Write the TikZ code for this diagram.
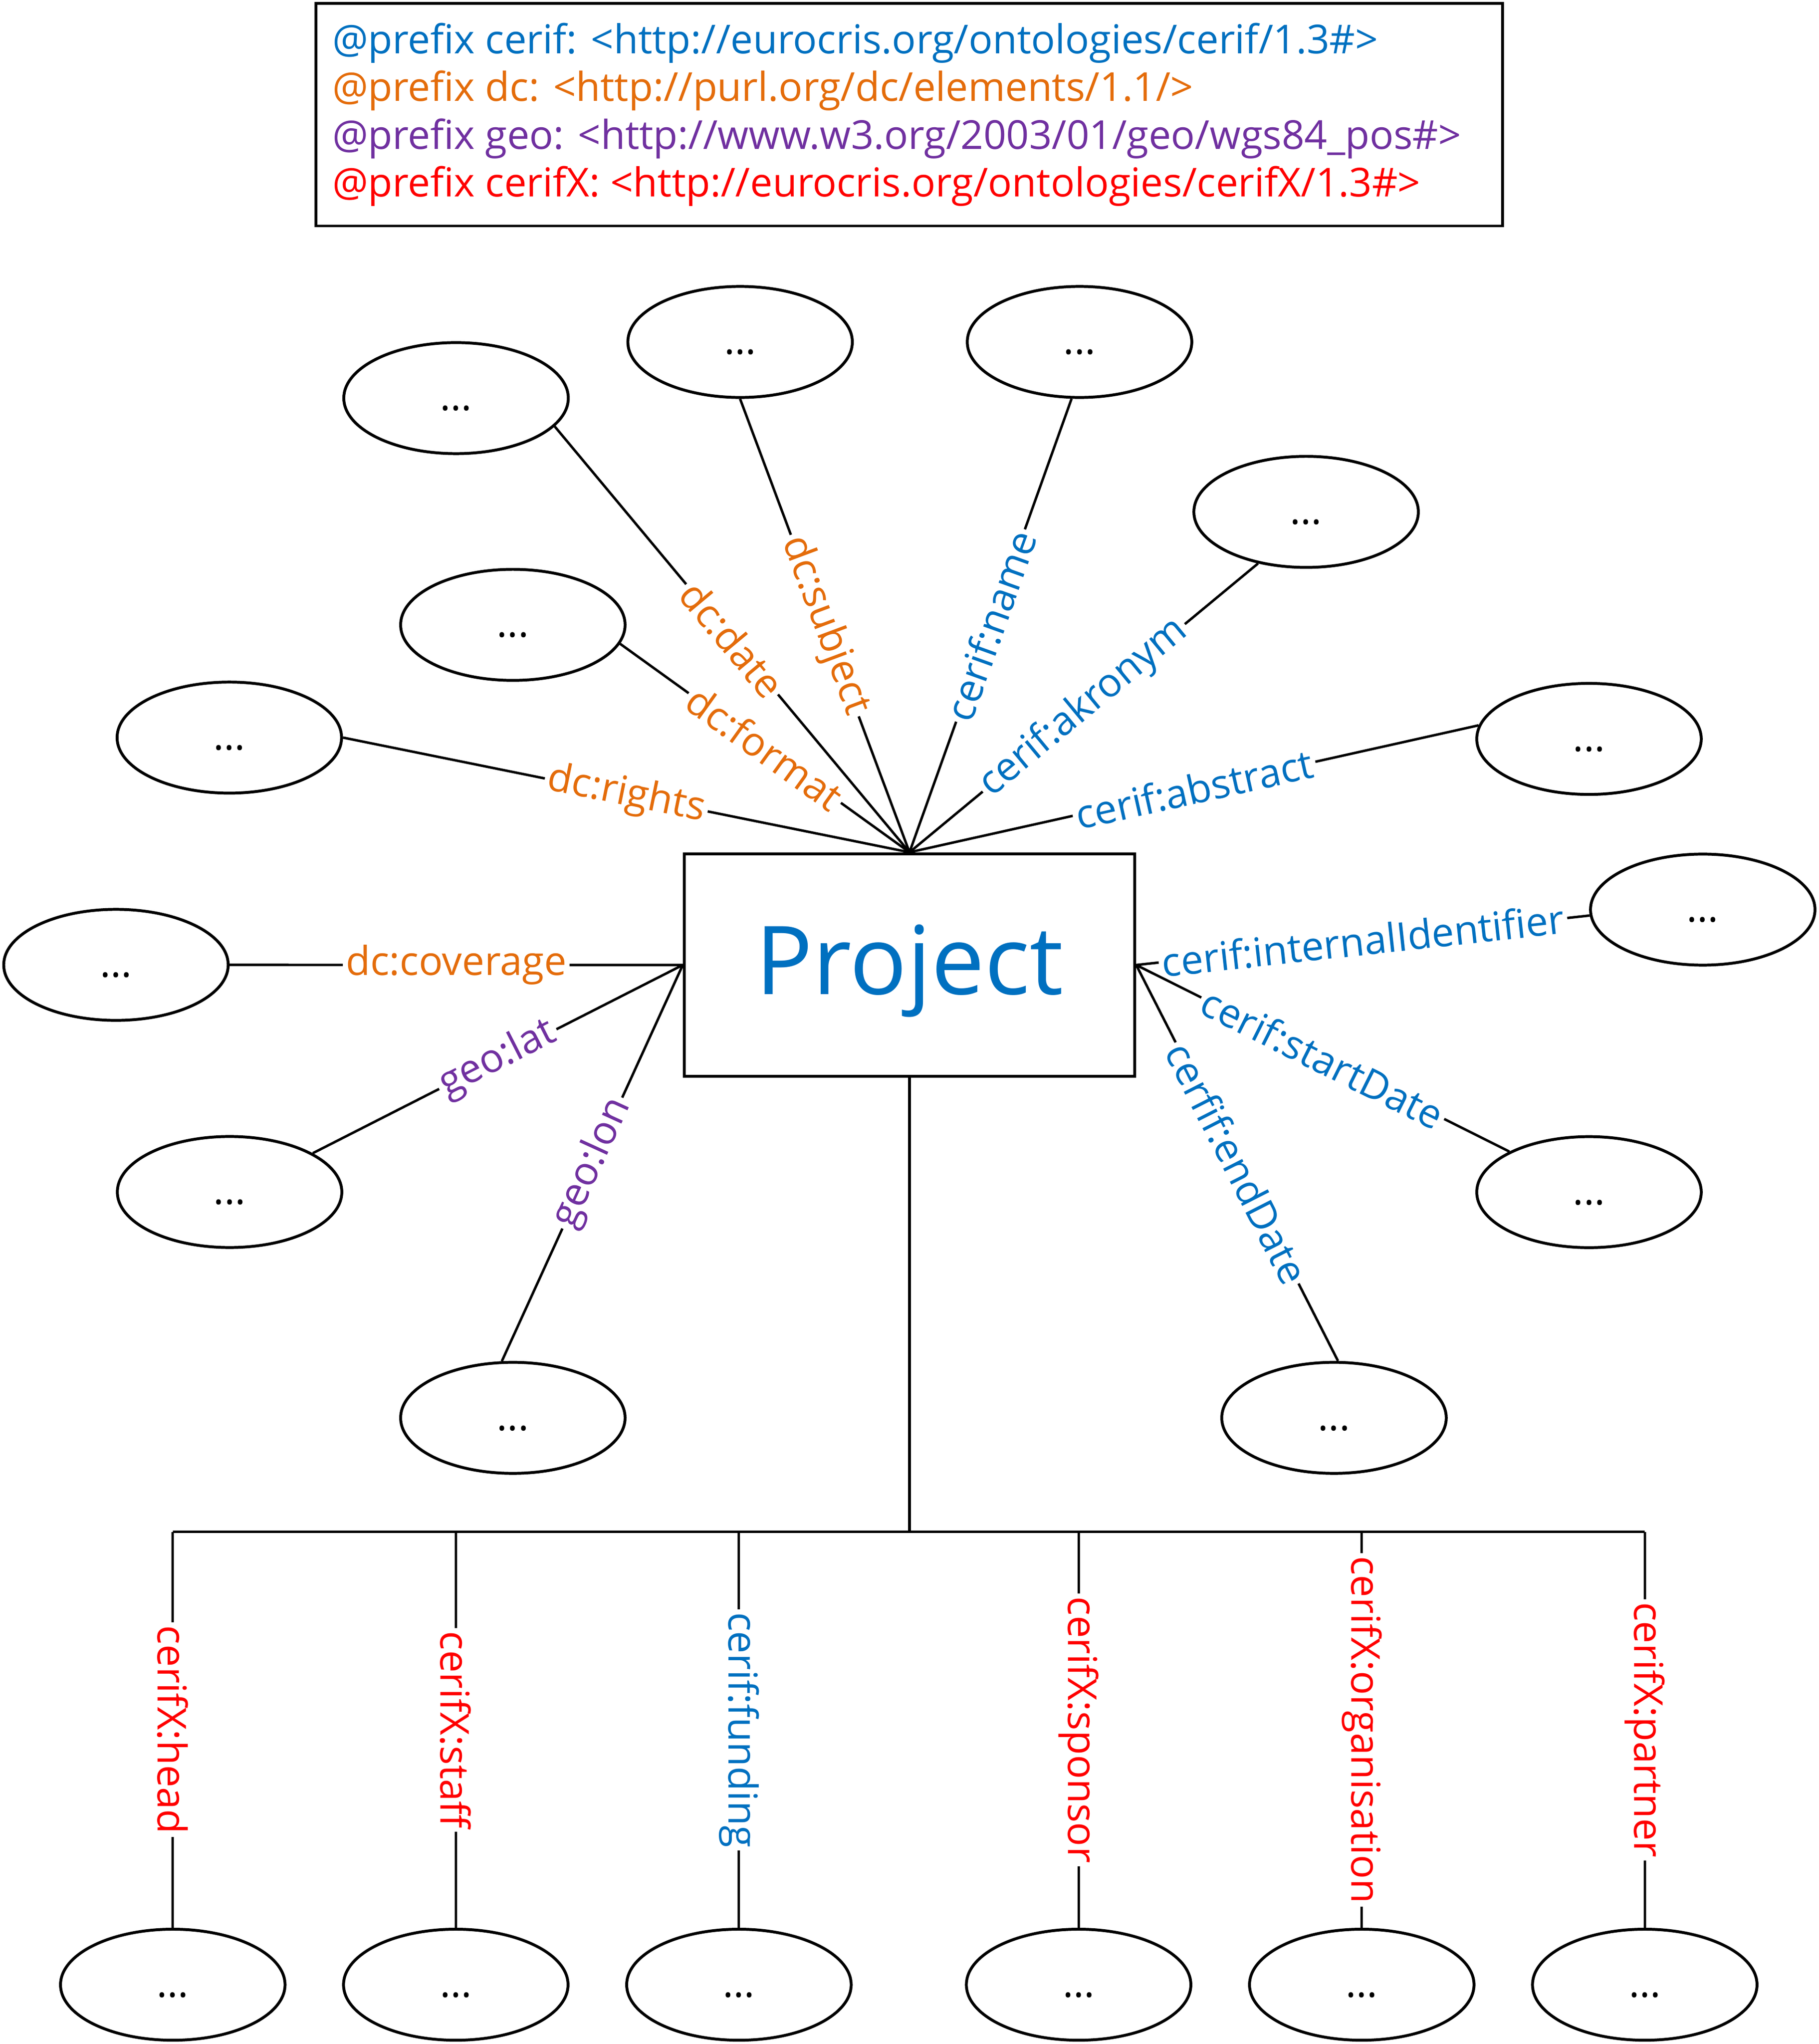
\documentclass[tikz,border=0pt]{standalone}
\usepackage{fontspec}
\setmainfont{Open Sans}
\usetikzlibrary{shapes.geometric}
\definecolor{cerifc}{HTML}{0070C0}
\definecolor{dcc}{HTML}{E46C0A}
\definecolor{geoc}{HTML}{7030A0}
\definecolor{cerifxc}{HTML}{FF0000}
\newcommand{\lblfont}{\fontsize{15.3}{18.3}\selectfont}
\begin{document}
\begin{tikzpicture}[x=0.5pt,y=-0.5pt,
  ell/.style={draw, ellipse, line width=1.1pt, minimum width=86.15pt, minimum height=42.6pt, inner sep=0pt, font=\lblfont, text height=13.8pt, text depth=4.3pt},
  boxstyle/.style={draw, line width=1.1pt, inner sep=0pt},
  conn/.style={line width=0.95pt},
  lbl/.style={fill=white, inner xsep=1.2pt, inner ysep=0pt, sloped, font=\lblfont},
  vlbl/.style={fill=white, inner xsep=1.2pt, inner ysep=0pt, rotate=-90, font=\lblfont},
]
\useasboundingbox (0,0) rectangle (1396,1568.5);

% prefix box
\node[boxstyle, minimum width=455.4pt, minimum height=85.4pt] (prefixbox) at (697.85,88) {};
\node[align=left, anchor=west, inner sep=0pt, font=\lblfont] (prefixtext) at (254.7,88) {%
\textcolor{cerifc}{@prefix cerif: <http://eurocris.org/ontologies/cerif/1.3\#>}\\
\textcolor{dcc}{@prefix dc: <http://purl.org/dc/elements/1.1/>}\\
\textcolor{geoc}{@prefix geo: <http://www.w3.org/2003/01/geo/wgs84\_pos\#>}\\
\textcolor{cerifxc}{@prefix cerifX: <http://eurocris.org/ontologies/cerifX/1.3\#>}};

% central node
\node[boxstyle, minimum width=172.9pt, minimum height=85.4pt, font=\fontsize{36.5}{44}\selectfont, text=cerifc, text height=32.9pt, text depth=10.2pt] (proj) at (698,740.5) {Project};

% ellipses
\node[ell] (edate)  at (350,305.5)   {...};
\node[ell] (esubj)  at (568,262.4)   {...};
\node[ell] (ename)  at (828.5,262.4) {...};
\node[ell] (eakr)   at (1002.4,392.8) {...};
\node[ell] (eform)  at (393.6,479.5) {...};
\node[ell] (erights) at (176,566)    {...};
\node[ell] (eabs)   at (1219.5,567)  {...};
\node[ell] (ecov)   at (89,740.4)    {...};
\node[ell] (eint)   at (1306.8,698)  {...};
\node[ell] (elat)   at (176.2,914.7) {...};
\node[ell] (estart) at (1219.5,914.8) {...};
\node[ell] (elon)   at (393.6,1088)  {...};
\node[ell] (eend)   at (1023.8,1088) {...};

\node[ell] (b1) at (132.6,1523) {...};
\node[ell] (b2) at (349.8,1523) {...};
\node[ell] (b3) at (567.1,1523) {...};
\node[ell] (b4) at (827.8,1523) {...};
\node[ell] (b5) at (1045.1,1523) {...};
\node[ell] (b6) at (1262.3,1523) {...};

% radial connectors
\draw[conn] (edate.-16) -- node[lbl,text=dcc]{dc:date} (proj.north);
\draw[conn] (esubj.-90) -- node[lbl,text=dcc]{dc:subject} (proj.north);
\draw[conn] (ename.-98) -- node[lbl,text=cerifc]{cerif:name} (proj.north);
\draw[conn] (eakr.-133) -- node[lbl,text=cerifc]{cerif:akronym} (proj.north);
\draw[conn] (eform.-10) -- node[lbl,text=dcc]{dc:format} (proj.north);
\draw[conn] (erights.0) -- node[lbl,text=dcc]{dc:rights} (proj.north);
\draw[conn] (eabs.173) -- node[lbl,text=cerifc]{cerif:abstract} (proj.north);
\draw[conn] (ecov.0) -- node[lbl,text=dcc]{dc:coverage} (proj.west);
\draw[conn] (eint.183) -- node[lbl,text=cerifc]{cerif:internalIdentifier} (proj.east);
\draw[conn] (elat.25) -- node[lbl,text=geoc]{geo:lat} (proj.west);
\draw[conn] (estart.153) -- node[lbl,text=cerifc]{cerif:startDate} (proj.east);
\draw[conn] (elon.101) -- node[lbl,text=geoc]{geo:lon} (proj.west);
\draw[conn] (eend.86) -- node[lbl,text=cerifc]{cerfif:endDate} (proj.east);

% bottom tree
\coordinate (bus) at (698,1175.5);
\coordinate (j1) at (b1.north |- bus);
\coordinate (j2) at (b2.north |- bus);
\coordinate (j3) at (b3.north |- bus);
\coordinate (j4) at (b4.north |- bus);
\coordinate (j5) at (b5.north |- bus);
\coordinate (j6) at (b6.north |- bus);
\draw[conn] (proj.south) -- (bus);
\draw[conn] (j1) -- (j6);
\draw[conn] (j1) -- node[vlbl,text=cerifxc]{cerifX:head} (b1.north);
\draw[conn] (j2) -- node[vlbl,text=cerifxc]{cerifX:staff} (b2.north);
\draw[conn] (j3) -- node[vlbl,text=cerifc]{cerif:funding} (b3.north);
\draw[conn] (j4) -- node[vlbl,text=cerifxc]{cerifX:sponsor} (b4.north);
\draw[conn] (j5) -- node[vlbl,text=cerifxc]{cerifX:organisation} (b5.north);
\draw[conn] (j6) -- node[vlbl,text=cerifxc]{cerifX:partner} (b6.north);
\end{tikzpicture}
\end{document}
